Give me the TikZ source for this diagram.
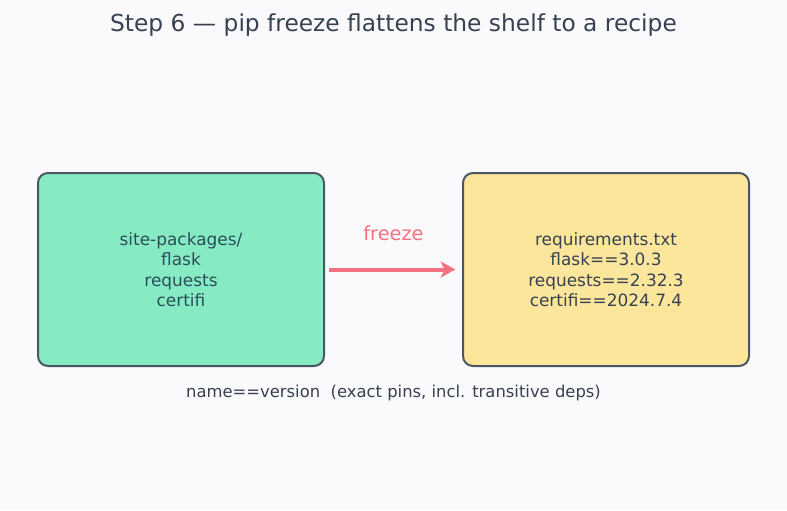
\documentclass[tikz,border=0pt]{standalone}
\usepackage{fontspec}
\setmainfont{DejaVu Sans}
\usetikzlibrary{arrows.meta}
\definecolor{pagebg}{HTML}{FAFAFD}
\definecolor{inkdark}{HTML}{374151}
\definecolor{edgegray}{HTML}{4B5563}
\definecolor{shelffill}{HTML}{86EAC2}
\definecolor{recipefill}{HTML}{FCE69B}
\definecolor{freezepink}{HTML}{F4727F}
\tikzset{
  stage/.style={draw=edgegray,line width=1.5pt,rounded corners=7.5pt,
    minimum width=214.5pt,minimum height=144.75pt,align=center,
    font=\fontsize{12.7}{15.4}\selectfont},          % box for one stage
  flow/.style={-{Stealth[length=11pt,width=12pt,inset=3pt]},freezepink,line width=3pt},
  caption/.style={text=inkdark,font=\fontsize{12.3}{14}\selectfont},
}
\begin{document}
\begin{tikzpicture}[x=0.75pt,y=-0.75pt]
  \fill[pagebg] (0,0) rectangle (787,510);
  \useasboundingbox (0,0) rectangle (787,510);
  \node[text=inkdark,font=\fontsize{17.5}{21}\selectfont] (title) at (393.5,25.5) {Step 6 — pip freeze flattens the shelf to a recipe};
  \node[stage,fill=shelffill,text=inkdark!80!teal] (shelf) at (181,269.5) {site-packages/\\flask\\requests\\certifi};
  \node[stage,fill=recipefill,text=inkdark] (recipe) at (606,269.5) {requirements.txt\\flask==3.0.3\\requests==2.32.3\\certifi==2024.7.4};
  \draw[flow,shorten <=3pt,shorten >=5pt] (shelf) -- (recipe)
    node[midway,above=17pt,text=freezepink,font=\fontsize{14.5}{17}\selectfont] (verb) {freeze};
  \node[caption] (pins) at (393.5,393) {name==version\ \ (exact pins, incl. transitive deps)};
\end{tikzpicture}
\end{document}
